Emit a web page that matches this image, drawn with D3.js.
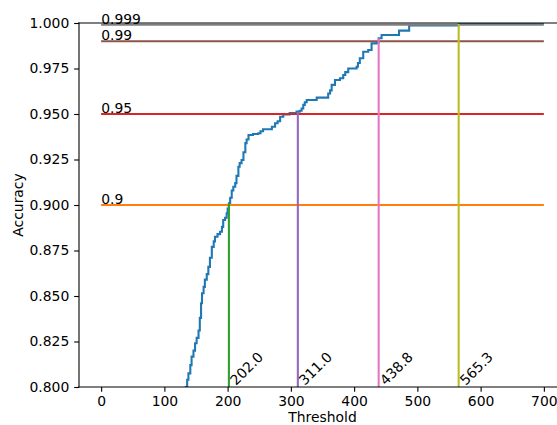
<!DOCTYPE html>
<html>
<head>
<meta charset="utf-8">
<script src="https://cdn.jsdelivr.net/npm/d3@7"></script>
<style>
  html, body { margin: 0; padding: 0; background: #fff; }
  text { font-family: "DejaVu Sans", sans-serif; }
</style>
</head>
<body>
<svg id="chart" width="557" height="425"></svg>
<script>
// ---- data ----
const thresholds = [130, 134, 136, 138, 141, 143, 146, 148.5, 151, 154, 156, 158, 159.5, 162, 164, 167, 169.5, 172, 175, 178, 180, 184, 188, 191, 193, 196, 198.5, 200, 202, 204, 206.5, 209, 212, 214, 217, 219, 222, 225, 228, 230, 233, 240, 248.5, 252, 256, 270, 275, 279, 283, 288, 298, 309, 314, 317, 319.6, 322, 325, 340.8, 359, 362, 364.5, 369.7, 377.6, 382.8, 386, 390.7, 403.9, 406, 409, 414.4, 422.3, 427.6, 435.5, 438.8, 443.4, 471, 487, 565.3, 580, 700];
const accuracy = [0.795, 0.800, 0.804, 0.8075, 0.812, 0.8167, 0.820, 0.824, 0.827, 0.831, 0.838, 0.846, 0.8515, 0.855, 0.859, 0.862, 0.866, 0.871, 0.877, 0.880, 0.8826, 0.884, 0.8853, 0.888, 0.8918, 0.893, 0.8954, 0.898, 0.9009, 0.904, 0.908, 0.910, 0.912, 0.916, 0.921, 0.923, 0.9247, 0.929, 0.934, 0.936, 0.9385, 0.9390, 0.9394, 0.9405, 0.9416, 0.943, 0.9449, 0.946, 0.9485, 0.9498, 0.9505, 0.9513, 0.9518, 0.953, 0.955, 0.9565, 0.9577, 0.959, 0.9613, 0.963, 0.966, 0.9687, 0.9696, 0.9714, 0.973, 0.975, 0.976, 0.978, 0.9806, 0.9842, 0.9852, 0.9888, 0.9892, 0.9916, 0.9934, 0.9958, 0.9987, 0.9995, 1.0, 1.0];
const levels = [0.9, 0.95, 0.99, 0.999];
const levelLabels = ["0.9", "0.95", "0.99", "0.999"];
const cutoffs = [202.0, 311.0, 438.8, 565.3];
const cutoffAcc = [0.9009, 0.9513, 0.9916, 0.9995];
const cutoffLabels = ["202.0", "311.0", "438.8", "565.3"];
const xTicks = [0, 100, 200, 300, 400, 500, 600, 700];
const yTicks = [0.800, 0.825, 0.850, 0.875, 0.900, 0.925, 0.950, 0.975, 1.000];
const levelColors = ["#ff7f0e", "#d62728", "#8c564b", "#7f7f7f"];
const cutoffColors = ["#2ca02c", "#9467bd", "#e377c2", "#bcbd22"];

// ---- layout ----
const svg = d3.select("#chart");
const L = 79, R = 566, T = 23, B = 387;
const x = d3.scaleLinear().domain([-35, 735]).range([L, R]);
const y = d3.scaleLinear().domain([0.8, 1.0]).range([B, T]);
const FS = 13.9;

svg.append("defs").append("clipPath").attr("id", "clip")
  .append("rect").attr("x", L).attr("y", T).attr("width", R - L).attr("height", B - T);

const plot = svg.append("g").attr("clip-path", "url(#clip)");

// curve
const pts = thresholds.map((t, i) => [t, accuracy[i]]);
plot.append("path")
  .datum(pts)
  .attr("fill", "none")
  .attr("stroke", "#1f77b4")
  .attr("stroke-width", 2.08)
  .attr("d", d3.line().x(d => x(d[0])).y(d => y(d[1])).curve(d3.curveStepAfter));

// interleaved horizontal and vertical lines
levels.forEach((lv, i) => {
  plot.append("line")
    .attr("x1", x(0)).attr("x2", x(700))
    .attr("y1", y(lv)).attr("y2", y(lv))
    .attr("stroke", levelColors[i]).attr("stroke-width", 2.08);
  plot.append("line")
    .attr("x1", x(cutoffs[i])).attr("x2", x(cutoffs[i]))
    .attr("y1", y(0.8)).attr("y2", y(cutoffAcc[i]))
    .attr("stroke", cutoffColors[i]).attr("stroke-width", 2.08);
});

// level labels
levels.forEach((lv, i) => {
  svg.append("text")
    .attr("x", x(0)).attr("y", y(lv) - 1)
    .attr("font-size", FS).attr("fill", "#000")
    .text(levelLabels[i]);
});

// cutoff labels (rotated)
cutoffs.forEach((c, i) => {
  const px = x(c) + 7, py = y(0.8) - 1;
  svg.append("text")
    .attr("transform", `translate(${px},${py}) rotate(-45)`)
    .attr("font-size", FS).attr("fill", "#000")
    .text(cutoffLabels[i]);
});

// axes
const xAxis = d3.axisBottom(x).tickValues(xTicks).tickFormat(d3.format("d")).tickSize(4.86).tickPadding(4.2);
const yAxis = d3.axisLeft(y).tickValues(yTicks).tickFormat(d3.format(".3f")).tickSize(4.86).tickPadding(4.9);

const gx = svg.append("g").attr("transform", `translate(0,${B})`).call(xAxis);
const gy = svg.append("g").attr("transform", `translate(${L},0)`).call(yAxis);
[gx, gy].forEach(g => {
  g.select(".domain").remove();
  g.selectAll(".tick line").attr("stroke", "#000").attr("stroke-width", 1.1);
  g.selectAll(".tick text").attr("font-size", FS).attr("font-family", "DejaVu Sans").attr("fill", "#000");
});

// spines
const spine = (x1, y1, x2, y2) => svg.append("line")
  .attr("x1", x1).attr("y1", y1).attr("x2", x2).attr("y2", y2)
  .attr("stroke", "#000").attr("stroke-width", 1.1).attr("stroke-linecap", "square");
spine(L, T, L, B);
spine(L, B, R, B);
spine(L, T, R, T);
spine(R, T, R, B);

// axis labels
svg.append("text")
  .attr("x", (L + R) / 2).attr("y", 422)
  .attr("text-anchor", "middle").attr("font-size", FS)
  .text("Threshold");
svg.append("text")
  .attr("transform", `translate(23,${(T + B) / 2}) rotate(-90)`)
  .attr("text-anchor", "middle").attr("font-size", FS)
  .text("Accuracy");
</script>
</body>
</html>
